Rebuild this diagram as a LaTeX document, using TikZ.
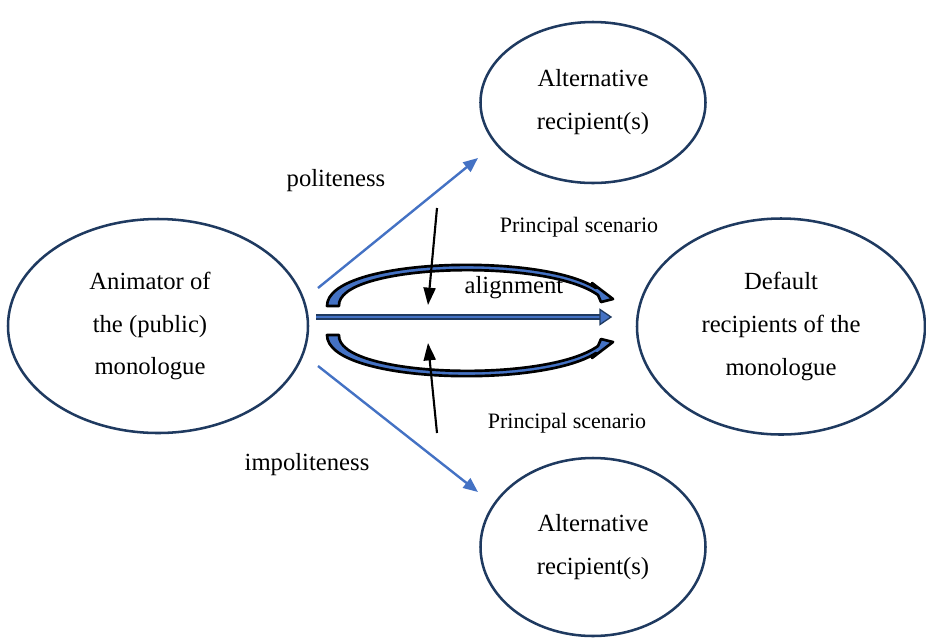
\documentclass[tikz,border=0pt]{standalone}
\usepackage{fontspec}
\setmainfont{Liberation Serif}
\usetikzlibrary{arrows.meta,shapes.geometric}
\definecolor{navy}{HTML}{1F3A60}
\definecolor{lblue}{HTML}{4472C4}
\begin{document}
\begin{tikzpicture}[x=0.75pt,y=-0.75pt,
  bubble/.style={draw=navy, line width=1.9pt, ellipse, inner sep=0pt, align=center,
    font=\fontsize{18.5}{32.2}\selectfont},
  btext/.style={align=center, inner sep=0pt, font=\fontsize{18.5}{32.2}\selectfont},
  lbl/.style={font=\fontsize{18.5}{22}\selectfont, inner sep=0pt},
  small/.style={font=\fontsize{16.5}{20}\selectfont, inner sep=0pt},
  bluearrow/.style={draw=lblue, line width=1.8pt, -{Triangle[length=11pt,width=9pt]}},
  blackarrow/.style={draw=black, line width=1.6pt, -{Triangle[length=13pt,width=9pt]}},
  crescent/.style={fill=lblue, draw=black, line width=2pt, line join=round}]
\useasboundingbox (0,0) rectangle (926,637);

\node[bubble, minimum width=225pt, minimum height=160.5pt] (anim) at (158,326) {};
\node[btext] (animtext) at (150,326) {Animator of\\the (public)\\monologue};
\node[bubble, minimum width=168.75pt, minimum height=120.75pt] (alt1) at (593,102.5) {Alternative\\recipient(s)};
\node[bubble, minimum width=216pt, minimum height=162pt] (def) at (781,326.5) {Default\\recipients of the\\monologue};
\node[bubble, minimum width=168.75pt, minimum height=133.5pt] (alt2) at (593,547) {Alternative\\recipient(s)};

\coordinate (p1) at (318,288);
\coordinate (p2) at (478,158);
\coordinate (i1) at (318,366);
\coordinate (i2) at (478,492);
\draw[bluearrow] (p1) -- (p2);
\draw[bluearrow] (i1) -- (i2);

% curved arrows
\path[crescent] (327,306) .. controls (327,258) and (540,252) .. (596,288) -- (592,283) -- (613,299) -- (601,302) -- (598,295) .. controls (545,257) and (336,264) .. (339,306) -- cycle;
\path[crescent] (327,335) .. controls (327,383) and (540,389) .. (596,353) -- (592,358) -- (613,342) -- (601,339) -- (598,346) .. controls (545,384) and (336,377) .. (339,335) -- cycle;

% central arrow
\coordinate (c1) at (316,317);
\coordinate (c2) at (601,317);
\draw[navy, line width=4.5pt] (c1) -- (c2);
\draw[lblue, line width=2pt] (c1) -- (c2);
\path[fill=lblue, draw=navy, line width=1pt, line join=miter] (600,309.5) -- (611,317) -- (600,324.5) -- cycle;

% black arrows
\coordinate (b1) at (437,208);
\coordinate (b2) at (428,305);
\coordinate (b3) at (437,433);
\coordinate (b4) at (428,343);
\draw[blackarrow] (b1) -- (b2);
\draw[blackarrow] (b3) -- (b4);

% labels
\node[lbl] (pol) at (336,181) {politeness};
\node[lbl] (impol) at (307,465) {impoliteness};
\node[lbl] (align) at (514,288) {alignment};
\node[small] (ps1) at (579,227) {Principal scenario};
\node[small] (ps2) at (567,423) {Principal scenario};
\end{tikzpicture}
\end{document}
